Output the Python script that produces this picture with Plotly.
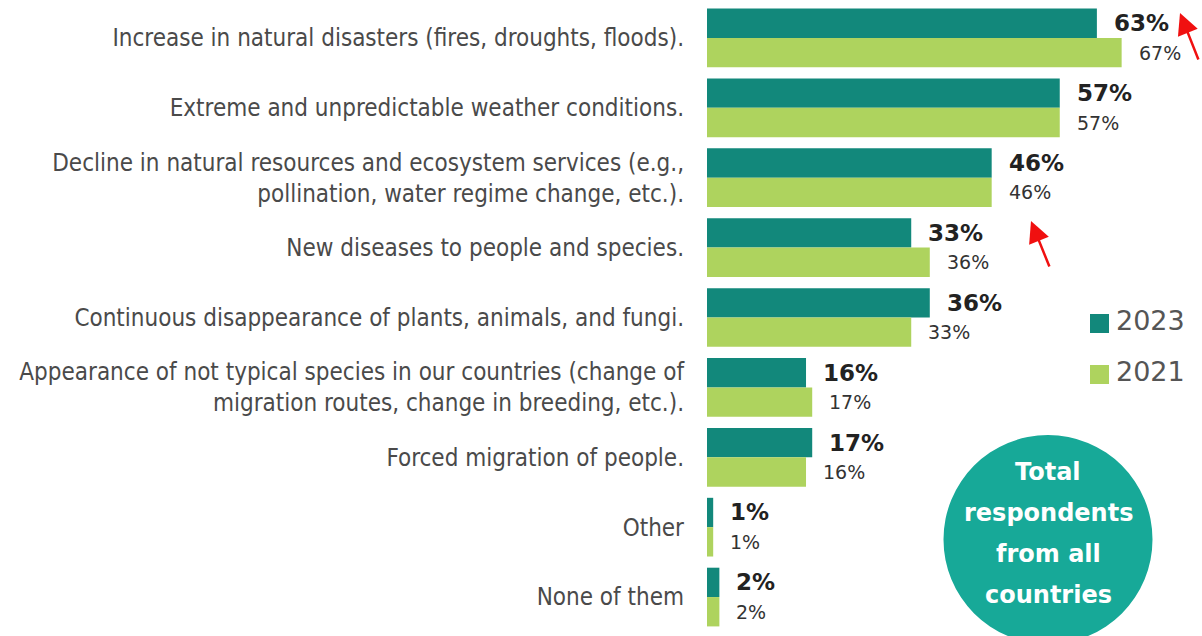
import plotly.graph_objects as go

# Survey answers, top to bottom
categories = [
    "Increase in natural disasters (fires, droughts, floods).",
    "Extreme and unpredictable weather conditions.",
    "Decline in natural resources and ecosystem services (e.g.,<br>pollination, water regime change, etc.).",
    "New diseases to people and species.",
    "Continuous disappearance of plants, animals, and fungi.",
    "Appearance of not typical species in our countries (change of<br>migration routes, change in breeding, etc.).",
    "Forced migration of people.",
    "Other",
    "None of them",
]
values_2023 = [63, 57, 46, 33, 36, 16, 17, 1, 2]
values_2021 = [67, 57, 46, 36, 33, 17, 16, 1, 2]
series_names = ["2023", "2021"]
badge_lines = ["Total", "respondents", "from all", "countries"]

COLOR_2023 = "#12887b"
COLOR_2021 = "#aed35e"
BADGE = "#17a998"
LABEL_FONT = "DejaVu Sans Condensed, Liberation Sans Narrow, Arial Narrow, sans-serif"
VALUE_FONT = "DejaVu Sans, Verdana, sans-serif"

W, H = 1202, 636
ML, MR, MT, MB = 707, 3, 3, 4
PW, PH = W - ML - MR, H - MT - MB
XMAX = 79.5


def px_x(px):
    return (px - ML) / PW


def px_y(py):
    return 1 - (py - MT) / PH


fig = go.Figure()
fig.add_trace(go.Bar(name=series_names[0], y=categories, x=values_2023, orientation="h",
                     marker=dict(color=COLOR_2023, line=dict(width=0)), showlegend=False))
fig.add_trace(go.Bar(name=series_names[1], y=categories, x=values_2021, orientation="h",
                     marker=dict(color=COLOR_2021, line=dict(width=0)), showlegend=False))

annotations = []
half_bar = PH / len(categories) * 0.84 / 4
for cat, v23, v21 in zip(categories, values_2023, values_2021):
    annotations.append(dict(x=v23, y=cat, xref="x", yref="y", text=f"{v23}%", showarrow=False,
                            xanchor="left", yanchor="middle", xshift=15, yshift=half_bar,
                            font=dict(family=VALUE_FONT, size=23, color="#222222", weight="bold")))
    annotations.append(dict(x=v21, y=cat, xref="x", yref="y", text=f"{v21}%", showarrow=False,
                            xanchor="left", yanchor="middle", xshift=15, yshift=-half_bar,
                            font=dict(family=VALUE_FONT, size=19, color="#333333")))

# custom legend
shapes = []
for name, color, cy in [(series_names[0], COLOR_2023, 323.5), (series_names[1], COLOR_2021, 374.5)]:
    shapes.append(dict(type="rect", xref="paper", yref="paper",
                       x0=px_x(1090), x1=px_x(1109), y0=px_y(cy + 9.5), y1=px_y(cy - 9.5),
                       fillcolor=color, line=dict(width=0)))
    annotations.append(dict(x=px_x(1114), y=px_y(cy - 3), xref="paper", yref="paper", text=name,
                            showarrow=False, xanchor="left", yanchor="middle",
                            font=dict(family=VALUE_FONT, size=27, color="#555555")))

# badge circle
cx, cy, r = 1048, 539.5, 104.5
shapes.append(dict(type="circle", xref="paper", yref="paper",
                   xsizemode="pixel", ysizemode="pixel",
                   xanchor=px_x(cx), yanchor=px_y(cy),
                   x0=-r, x1=r, y0=-r, y1=r,
                   fillcolor=BADGE, line=dict(width=0), layer="above"))
for line, ly in zip(badge_lines, [472, 513, 554, 595]):
    annotations.append(dict(x=px_x(cx), y=px_y(ly), xref="paper", yref="paper", text=line,
                            showarrow=False, xanchor="center", yanchor="middle",
                            font=dict(family=VALUE_FONT, size=24, color="white", weight="bold")))

# red pointer arrows
for tip, tail in [((1180, 13), (1199, 61)), ((1031, 221), (1050, 268))]:
    annotations.append(dict(x=px_x(tip[0]), y=px_y(tip[1]), xref="paper", yref="paper",
                            ax=tail[0] - tip[0], ay=tail[1] - tip[1], text="", showarrow=True,
                            arrowhead=2, arrowsize=1.7, arrowwidth=2.5, arrowcolor="#f01010"))

fig.update_layout(
    width=W, height=H,
    margin=dict(l=ML, r=MR, t=MT, b=MB, autoexpand=False),
    paper_bgcolor="white", plot_bgcolor="white",
    barmode="group", bargap=0.16, bargroupgap=0,
    xaxis=dict(range=[0, XMAX], visible=False, fixedrange=True, automargin=False),
    yaxis=dict(autorange="reversed", showgrid=False, zeroline=False, showline=False,
               ticks="", ticklabelstandoff=22, automargin=False,
               tickfont=dict(family=LABEL_FONT, size=24, color="#4a4a4a")),
    shapes=shapes,
    annotations=annotations,
    showlegend=False,
)

fig.write_html("out.html")
